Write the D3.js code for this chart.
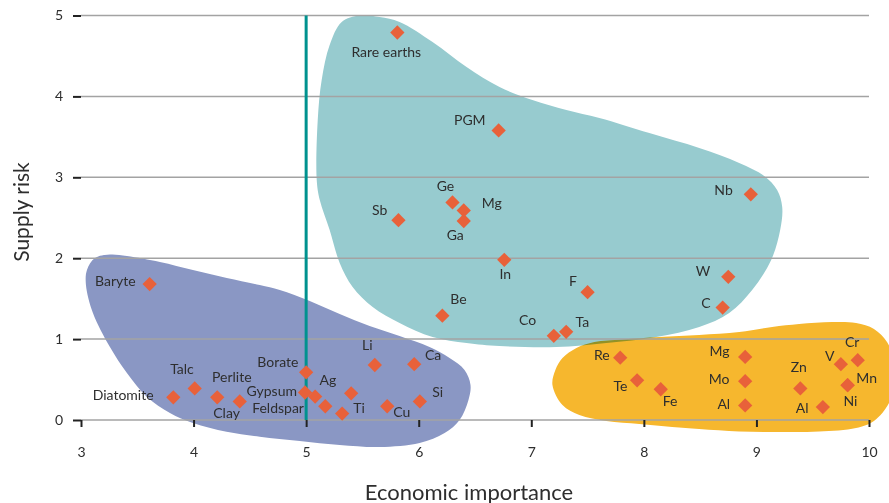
<!DOCTYPE html>
<html><head><meta charset="utf-8">
<script src="https://cdn.jsdelivr.net/npm/d3@7/dist/d3.min.js"></script>
<style>
html,body{margin:0;padding:0;background:#fff;}
svg{display:block;font-family:Lato,"Open Sans",sans-serif;}
</style></head>
<body><svg id="chart" width="889" height="503"></svg>
<script>
// ---------- data ----------
const materials = ["Rare earths","PGM","Ge","Mg","Ga","Sb","In","Be","Co","Ta","F","W","C","Nb",
  "Baryte","Diatomite","Talc","Clay","Perlite","Borate","Gypsum","Ag","Feldspar","Ti","","Li","Cu","Ca","Si",
  "Re","Te","Fe","Mg","Mo","Al","Zn","Al","V","Cr","Mn","Ni"];
const economicImportance = [5.81,6.71,6.30,6.40,6.40,5.82,6.76,6.21,7.20,7.31,7.50,8.75,8.70,8.95,
  3.61,3.82,4.01,4.21,4.41,5.00,4.99,5.08,5.17,5.32,5.40,5.61,5.72,5.96,6.01,
  7.79,7.94,8.15,8.90,8.90,8.90,9.39,9.59,9.75,9.90,9.81,9.81];
const supplyRisk = [4.79,3.58,2.69,2.59,2.46,2.47,1.98,1.29,1.04,1.09,1.58,1.77,1.39,2.79,
  1.68,0.28,0.39,0.28,0.23,0.59,0.34,0.29,0.17,0.08,0.33,0.68,0.17,0.69,0.23,
  0.77,0.49,0.38,0.78,0.48,0.18,0.39,0.16,0.69,0.74,0.43,0.43];
const xTicks = [3,4,5,6,7,8,9,10];
const yTicks = [0,1,2,3,4,5];
const threshold = 5;
// group outlines (economic importance, supply risk)
const criticalZone = [[5.094,2.967],[5.103,3.708],[5.138,4.203],[5.209,4.635],[5.316,4.920],[5.475,5.000],[5.653,4.981],[5.830,4.920],[6.123,4.672],[6.425,4.363],[6.718,4.116],[7.010,3.955],[7.312,3.832],[7.605,3.733],[8.049,3.547],[8.492,3.362],[8.847,3.177],[9.069,3.016],[9.184,2.843],[9.229,2.633],[9.211,2.349],[9.131,1.978],[8.962,1.607],[8.758,1.323],[8.492,1.150],[8.110,1.026],[7.667,0.952],[7.223,0.902],[6.718,0.915],[6.425,0.952],[6.123,1.026],[5.830,1.199],[5.591,1.397],[5.413,1.644],[5.298,1.941],[5.209,2.349],[5.121,2.719]];
const lowImportanceZone = [[4.293,-0.145],[4.588,-0.206],[4.943,-0.260],[5.298,-0.309],[5.653,-0.334],[6.008,-0.284],[6.230,-0.161],[6.363,0.000],[6.442,0.247],[6.460,0.433],[6.407,0.618],[6.274,0.766],[6.096,0.902],[5.830,1.038],[5.564,1.162],[5.298,1.310],[5.032,1.471],[4.766,1.607],[4.588,1.669],[4.295,1.755],[3.994,1.854],[3.701,1.953],[3.408,2.027],[3.257,2.046],[3.124,2.002],[3.053,1.854],[3.044,1.669],[3.106,1.323],[3.257,0.902],[3.408,0.581],[3.586,0.284],[3.790,0.087],[3.994,-0.037]];
const lowRiskZone = [[7.188,0.433],[7.214,0.618],[7.277,0.766],[7.401,0.890],[7.560,0.964],[7.809,0.995],[8.137,1.026],[8.492,1.051],[8.847,1.088],[9.140,1.150],[9.379,1.187],[9.672,1.211],[9.885,1.199],[10.044,1.125],[10.160,0.964],[10.222,0.742],[10.231,0.494],[10.178,0.210],[10.044,-0.012],[9.885,-0.099],[9.557,-0.142],[9.202,-0.148],[8.847,-0.142],[8.492,-0.111],[8.252,-0.087],[7.960,-0.049],[7.667,-0.012],[7.427,0.062],[7.277,0.185]];
// label placement (dx, dy in px, anchor)
const labelPlacement = [[-11,19,"middle"],[-13,-11,"end"],[-7,-17,"middle"],[18,-8,"start"],[-8.5,14,"middle"],[-11,-11,"end"],[1,14,"middle"],[8,-17,"start"],[-17.6,-16,"end"],[9.4,-10,"start"],[-10.7,-11.6,"end"],[-18,-6,"end"],[-12,-5,"end"],[-18,-5,"end"],
  [-14,-4,"end"],[-19.7,-3,"end"],[-12.7,-20,"middle"],[9.4,15,"middle"],[-27.7,-24.6,"start"],[-7.7,-10.6,"end"],[-8,-2.3,"end"],[4.3,-16.7,"start"],[-21.3,1,"end"],[11,-6,"start"],[0,0,"start"],[-7.5,-20.7,"middle"],[6,5,"start"],[10.7,-10,"start"],[12.3,-9.7,"start"],
  [-10.6,-3,"end"],[-9.6,5.3,"end"],[2,11.7,"start"],[-15.7,-6.6,"end"],[-15.7,-2.7,"end"],[-15,-1.7,"end"],[-1.5,-21.6,"middle"],[-14.3,0,"end"],[-6.3,-9,"end"],[-5.6,-18.3,"middle"],[8.7,-7.3,"start"],[2.8,15,"middle"]];

// ---------- chart ----------
const svg = d3.select("#chart");
const x = d3.scaleLinear().domain([3,10]).range([81,869]);
const y = d3.scaleLinear().domain([0,5]).range([420,15.5]);
const textColor = "#2e2e2e";

const blob = d3.line().x(d=>x(d[0])).y(d=>y(d[1])).curve(d3.curveCatmullRomClosed.alpha(0.5));
svg.append("path").attr("d", blob(criticalZone)).attr("fill","#97cbcf");
svg.append("path").attr("d", blob(lowImportanceZone)).attr("fill","#8a97c4");
svg.append("path").attr("d", blob(lowRiskZone)).attr("fill","#f6b72e").style("mix-blend-mode","multiply");

// gridlines
svg.append("g").selectAll("line").data(yTicks).join("line")
  .attr("x1", x(3)).attr("x2", x(10)).attr("y1", d=>y(d)).attr("y2", d=>y(d))
  .attr("stroke","#a3a3a3").attr("stroke-width",1.5);

// axes
const yAxis = d3.axisLeft(y).tickValues(yTicks).tickSize(8).tickPadding(10).tickFormat(d3.format("d"));
const gy = svg.append("g").attr("transform",`translate(${x(3)},0)`).call(yAxis);
gy.select(".domain").remove();
const xAxis = d3.axisBottom(x).tickValues(xTicks).tickSize(7).tickPadding(20).tickFormat(d3.format("d"));
const gx = svg.append("g").attr("transform",`translate(0,${y(0)})`).call(xAxis);
gx.select(".domain").remove();
[gx,gy].forEach(g=>{
  g.selectAll(".tick line").attr("stroke","#222").attr("stroke-width",2);
  g.selectAll(".tick text").attr("fill",textColor).style("font-size","14px").style("font-family","Lato");
});

// threshold line
svg.append("line").attr("x1",x(threshold)).attr("x2",x(threshold)).attr("y1",y(5)).attr("y2",y(0))
  .attr("stroke","#00928f").attr("stroke-width",3);

// points
const pts = materials.map((m,i)=>({name:m, ei:economicImportance[i], sr:supplyRisk[i], lp:labelPlacement[i]}));
svg.append("g").selectAll("path").data(pts).join("path")
  .attr("d", d3.symbol().type(d3.symbolSquare).size(102)())
  .attr("transform", d=>`translate(${x(d.ei)},${y(d.sr)}) rotate(45)`)
  .attr("fill","#e8613a");
svg.append("g").selectAll("text").data(pts.filter(d=>d.name)).join("text")
  .attr("x", d=>x(d.ei)+d.lp[0]).attr("y", d=>y(d.sr)+d.lp[1])
  .attr("text-anchor", d=>d.lp[2]).attr("dominant-baseline","central")
  .attr("fill",textColor).style("font-size","14px").text(d=>d.name);

// axis titles
svg.append("text").attr("x",469).attr("y",491).attr("text-anchor","middle").attr("dominant-baseline","central")
  .attr("fill",textColor).style("font-size","22px").text("Economic importance");
svg.append("text").attr("transform","translate(20,212) rotate(-90)").attr("text-anchor","middle").attr("dominant-baseline","central")
  .attr("fill",textColor).style("font-size","21px").text("Supply risk");
</script></body></html>
